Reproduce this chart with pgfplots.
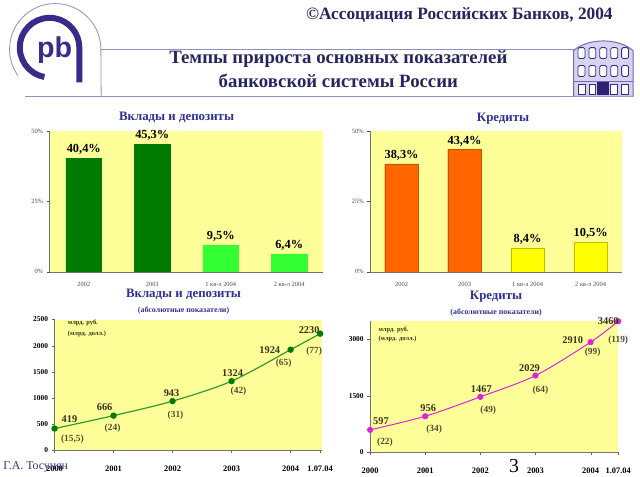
\documentclass[border=0pt]{standalone}
\usepackage{fontspec}
\setmainfont{Liberation Serif}
\newfontfamily\logofont{Liberation Sans}
\usepackage{pgfplots}
\pgfplotsset{compat=1.18}
\usepackage{pgfplotstable}

\definecolor{bgyel}{HTML}{FFFF99}
\definecolor{dgreen}{HTML}{007A00}
\definecolor{lgreen}{HTML}{33FF33}
\definecolor{orng}{HTML}{FF6600}
\definecolor{ybar}{HTML}{FFFF00}
\definecolor{navy}{HTML}{2E3192}
\definecolor{hdr}{HTML}{252560}
\definecolor{lblc}{HTML}{333319}
\definecolor{dolc}{HTML}{4D4D2E}
\definecolor{lgn}{HTML}{2E9A2E}
\definecolor{mag}{HTML}{E020E0}
\definecolor{logoc}{HTML}{3A2A8C}
\definecolor{thinc}{HTML}{9090B8}
\definecolor{bldg}{HTML}{D4D4F0}

% deposits, bln rub
\pgfplotstableread{
x y lbl dx dy
2000 419 419 15 10
2001 666 666 -9 9
2002 943 943 -1 8
2003 1324 1324 1 8
2004 1924 1924 -21 0
2004.5 2230 2230 -11 4
}\depR
% deposits, bln usd labels
\pgfplotstableread{
x y lbl dx dy
2000 419 (15,5) 18 -11
2001 666 (24) -1 -13
2002 943 (31) 3 -14
2003 1324 (42) 7 -10
2004 1924 (65) -7 -14
2004.5 2230 (77) -6 -18
}\depD
% credits, bln rub
\pgfplotstableread{
x y lbl dx dy
2000 597 597 11 9
2001 956 956 3 8
2002 1467 1467 1 8
2003 2029 2029 -6 8
2004 2910 2910 -18 2
2004.5 3460 3460 -10 0
}\crdR
% credits, bln usd labels
\pgfplotstableread{
x y lbl dx dy
2000 597 (22) 15 -12
2001 956 (34) 9 -13
2002 1467 (49) 8 -13
2003 2029 (64) 5 -15
2004 2910 (99) 2 -10
2004.5 3460 (119) 0 -19
}\crdD

\pgfplotsset{
  /pgf/number format/assume math mode=true,
  barchart/.style={
    scale only axis, anchor=south west,
    ymin=0, ymax=50, xmin=-0.5, xmax=3.5,
    ytick={0,25,50}, yticklabel={\pgfmathprintnumber{\tick}\%},
    xtick={0,1,2,3},
    xticklabels={2002,2003,1 кв-л 2004,2 кв-л 2004},
    axis background/.style={fill=bgyel},
    axis x line*=bottom, axis y line*=left,
    axis line style={black!55, line width=0.6pt},
    tick label style={font=\fontsize{6.5}{7}\selectfont, text=black!70},
    x tick label style={yshift=-4bp},
    tick align=outside, major tick length=3bp,
    xtick style={draw=none}, ytick style={black!70},
    ybar,
    nodes near coords={\pgfmathprintnumber[fixed,fixed zerofill,precision=1,use comma]{\pgfplotspointmeta}\%},
    every node near coord/.append style={font=\bfseries\fontsize{12.5}{13}\selectfont, text=black},
  },
  linechart/.style={
    scale only axis, anchor=south west, ymin=0, xmin=2000,
    axis background/.style={fill=bgyel},
    axis x line*=bottom, axis y line*=left,
    axis line style={black!55, line width=0.5pt},
    xtick={2000,2001,2002,2003,2004,2004.5},
    xticklabels={2000,2001,2002,2003,2004,1.07.04},
    x tick label style={font=\bfseries\fontsize{8.5}{9}\selectfont, yshift=-9bp},
    y tick label style={font=\bfseries\fontsize{7.5}{8}\selectfont},
    /pgf/number format/1000 sep={},
    tick align=outside, major tick length=3bp, tick style={black!60},
    clip=false,
  },
  lbls/.style={draw=none, nodes near coords, point meta=explicit symbolic,
    visualization depends on={\thisrow{dx}\as\lx},
    visualization depends on={\thisrow{dy}\as\ly},
    every node near coord/.append style={anchor=center, xshift=\lx bp, yshift=\ly bp,
      font=\bfseries\fontsize{#1}{11}\selectfont, text=lblc}},
}

\begin{document}
\begin{tikzpicture}
\begin{scope}[x=1bp,y=1bp]
\fill[white] (0,0) rectangle (640,480);
\useasboundingbox (0,0) rectangle (640,480);

% header
\draw[thinc, line width=0.8pt] (97,430) -- (573,430);
\draw[thinc, line width=0.8pt] (20,383) -- (573,383);
\draw[thinc, line width=0.8pt] (13,404) arc[start angle=215, end angle=0, radius=46] -- (97,383);
\draw[logoc, line width=6bp] (39.8,402.5) arc[start angle=-100, end angle=-360, radius=30] -- (75,397);
\node[logoc, font=\logofont\bfseries\fontsize{29}{29}\selectfont] at (50,430) {pb};
\node[font=\bfseries\fontsize{17.5}{18}\selectfont, text=hdr] at (458,465) {©Ассоциация Российских Банков, 2004};
\node[align=center, font=\bfseries\fontsize{19}{24}\selectfont, text=hdr] at (336,410)
  {Темпы прироста основных показателей\\банковской системы России};
% building
\draw[logoc!70, line width=1pt, fill=bldg] (573,383) -- (573,429) .. controls (588,442) and (618,442) .. (633,429) -- (633,383) -- cycle;
\draw[logoc!70, line width=0.8pt] (573,398) -- (633,398);
\foreach \cx in {581,592,603,614,625} {
  \draw[logoc, line width=0.8pt, fill=white, rounded corners=1.5pt] (\cx-3.5,421) rectangle (\cx+3.5,432);
  \draw[logoc, line width=0.8pt, fill=white, rounded corners=1.5pt] (\cx-3.5,403) rectangle (\cx+3.5,414);
}
\foreach \cx in {581,592,614,625} {
  \draw[logoc, line width=0.8pt, fill=white] (\cx-3.5,385) rectangle (\cx+3.5,395);
}
\fill[logoc!80!black] (597,384) rectangle (609,397);

% chart titles
\node[font=\bfseries\fontsize{13}{13}\selectfont, text=navy] at (173,362) {Вклады и депозиты};
\node[font=\bfseries\fontsize{13}{13}\selectfont, text=navy] at (502,360) {Кредиты};
\node[font=\bfseries\fontsize{13}{13}\selectfont, text=navy] at (180,183) {Вклады и депозиты};
\node[font=\bfseries\fontsize{8}{8}\selectfont, text=navy] at (180,167) {(абсолютные показатели)};
\node[font=\bfseries\fontsize{13}{13}\selectfont, text=navy] at (495,181) {Кредиты};
\node[font=\bfseries\fontsize{8}{8}\selectfont, text=navy] at (495,165) {(абсолютные показатели)};
\end{scope}

% top-left: deposits growth
\begin{axis}[barchart, at={(45bp,206bp)}, width=276bp, height=142bp]
\addplot[fill=dgreen, draw=dgreen, bar width=36bp, bar shift=0pt] coordinates {(0,40.4) (1,45.3)};
\addplot[fill=lgreen, draw=lgreen, bar width=36bp, bar shift=0pt] coordinates {(2,9.5) (3,6.4)};
\end{axis}

% top-right: credits growth
\begin{axis}[barchart, at={(368bp,206bp)}, width=254bp, height=142bp]
\addplot[fill=orng, draw=orng!80!black, bar width=34bp, bar shift=0pt] coordinates {(0,38.3) (1,43.4)};
\addplot[fill=ybar, draw=ybar!75!black, bar width=34bp, bar shift=0pt] coordinates {(2,8.4) (3,10.5)};
\end{axis}

% bottom-left: deposits absolute
\begin{axis}[linechart, at={(50bp,26bp)}, width=270bp, height=132bp,
  xmax=2004.54, ymax=2500, ytick={0,500,...,2500}]
\addplot[lgn, line width=1.2pt, smooth, mark=*, mark size=2.6pt,
  mark options={fill=dgreen, draw=dgreen}] table[x=x,y=y] {\depR};
\addplot[lbls=10.5] table[x=x,y=y,meta=lbl] {\depR};
\addplot[lbls=9.5, every node near coord/.append style={text=dolc}] table[x=x,y=y,meta=lbl] {\depD};
\end{axis}

% bottom-right: credits absolute
\begin{axis}[linechart, at={(368bp,24bp)}, width=250bp, height=133bp,
  xmax=2004.5, ymax=3480, ytick={0,1500,3000}]
\addplot[mag, line width=1pt, smooth, mark=*, mark size=2.6pt,
  mark options={fill=mag, draw=mag}] table[x=x,y=y] {\crdR};
\addplot[lbls=10.5] table[x=x,y=y,meta=lbl] {\crdR};
\addplot[lbls=9.5, every node near coord/.append style={text=dolc}] table[x=x,y=y,meta=lbl] {\crdD};
\end{axis}

\begin{scope}[x=1bp,y=1bp]
\node[anchor=west, font=\bfseries\fontsize{6.5}{7}\selectfont, text=lblc] at (60,155) {млрд. руб.};
\node[anchor=west, font=\bfseries\fontsize{6.5}{7}\selectfont, text=lblc] at (60,143) {(млрд. долл.)};
\node[anchor=west, font=\bfseries\fontsize{6.5}{7}\selectfont, text=lblc] at (373,148) {млрд. руб.};
\node[anchor=west, font=\bfseries\fontsize{6.5}{7}\selectfont, text=lblc] at (373,138) {(млрд. долл.)};

% footer
\node[font=\fontsize{12}{12}\selectfont, text=black!50!blue!60!gray] at (31,10) {Г.А. Тосунян};
\node[anchor=base, inner sep=0pt, font=\fontsize{20}{20}\selectfont] at (513,3.5) {3};
\end{scope}
\end{tikzpicture}
\end{document}
